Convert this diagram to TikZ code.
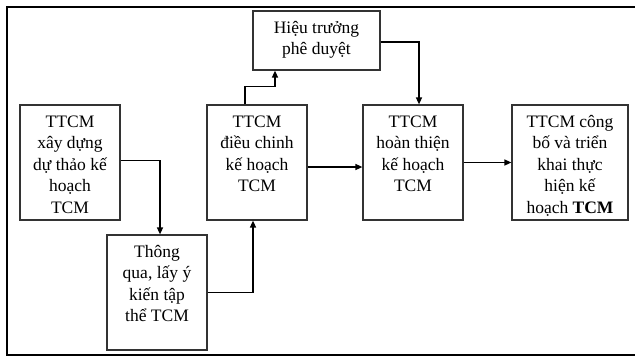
\documentclass[tikz,border=0pt]{standalone}
\usepackage{fontspec}
\setmainfont{Liberation Serif}
\usetikzlibrary{arrows.meta}
\newcommand{\bt}[3]{\parbox[c][#2][t]{#1}{\centering\rule{0pt}{22pt}#3}}
\begin{document}
\begin{tikzpicture}[x=1pt,y=-1pt,
  procbox/.style={draw=black!80, line width=1.2pt, inner sep=0pt,
    font=\fontsize{17.5}{21.5}\selectfont},
  conn/.style={line width=1.4pt, -{Triangle[length=7pt,width=6pt]}},
  frame/.style={line width=2pt, line cap=rect}]
\useasboundingbox (0,0) rectangle (635,357);
% outer frame
\coordinate (ftl) at (7,7);
\coordinate (ftr) at (636,7);
\coordinate (fbl) at (7,355);
\coordinate (fbr) at (636,355);
\draw[frame] (ftr) -- (ftl) -- (fbl) -- (fbr);
% boxes
\node[procbox] (b1) at (70,162.5) {\bt{100pt}{115pt}{TTCM\\ xây dựng\\ dự thảo kế\\ hoạch\\ TCM}};
\node[procbox] (b2) at (157,292.5) {\bt{100pt}{115pt}{Thông\\ qua, lấy ý\\ kiến tập\\ thể TCM}};
\node[procbox] (b3) at (257,162.5) {\bt{100pt}{115pt}{TTCM\\ điều chinh\\ kế hoạch\\ TCM}};
\node[procbox] (ht) at (316.5,40.5) {\bt{127pt}{59pt}{Hiệu trưởng\\ phê duyệt}};
\node[procbox] (b4) at (413,162.5) {\bt{100pt}{115pt}{TTCM\\ hoàn thiện\\ kế hoạch\\ TCM}};
\node[procbox] (b5) at (570,162.5) {\bt{116pt}{115pt}{TTCM công\\ bố và triển\\ khai thực\\ hiện kế\\ hoạch \textbf{TCM}}};
% connectors
\draw[conn] ([yshift=2pt]b1.east) -| ([xshift=3pt]b2.north);
\draw[conn] (b2.east) -| ([xshift=-4pt]b3.south);
\draw[conn] ([xshift=-12pt]b3.north) -- ++(0,-18) -| ([xshift=-41.5pt]ht.south);
\draw[conn] ([yshift=-1.5pt]ht.east) -| ([xshift=6pt]b4.north);
\draw[conn] ([yshift=-4.5pt]b3.east) -- ([yshift=-4.5pt]b3.east -| b4.west);
\draw[conn] (b4.east) -- (b5.west);
\end{tikzpicture}
\end{document}
